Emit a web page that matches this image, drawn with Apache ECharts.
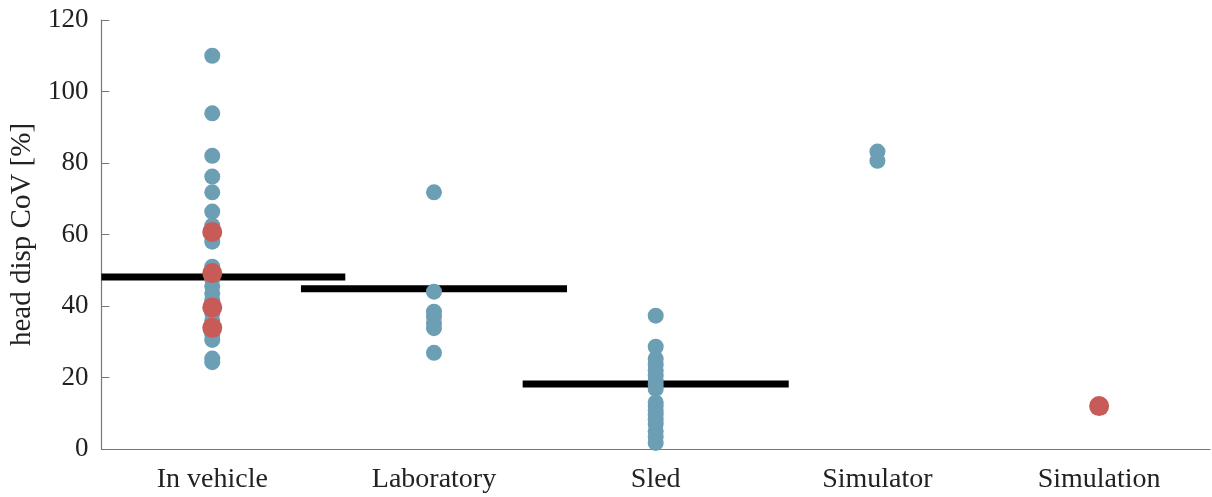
<!DOCTYPE html>
<html>
<head>
<meta charset="utf-8">
<script src="https://cdn.jsdelivr.net/npm/echarts@6/dist/echarts.min.js"></script>
<style>html,body{margin:0;padding:0;background:#fff}#c{width:1212px;height:497px}</style>
</head>
<body>
<div id="c"></div>
<script>
const categories = ['In vehicle', 'Laboratory', 'Sled', 'Simulator', 'Simulation'];
const yTicks = [0, 20, 40, 60, 80, 100, 120];
const blueInVehicle = [110, 93.9, 82, 76.2, 71.8, 66.4, 62.5, 58, 51, 47.5, 45.5, 43.5, 41.5, 38, 36, 32, 30.5, 25.3, 24.3];
const redInVehicle = [60.7, 49.2, 39.6, 33.9];
const blueLab = [71.8, 44, 38.4, 37, 35.2, 33.8, 26.9];
const blueSled = [37.3, 28.6, 25.2, 23.6, 22, 20.5, 19.2, 18, 16.8, 13, 12, 10.8, 9.6, 8.2, 7, 5, 3.4, 1.7];
const blueSimulator = [83.2, 80.6];
const redSimulation = [12];
const means = [48.1, 44.8, 18.2];

const BLUE = '#6C9EB4', RED = '#C75B58';
const FONT = '"Liberation Serif", "Times New Roman", serif';

const bluePts = [].concat(
  blueInVehicle.map(v => [0, v]),
  blueLab.map(v => [1, v]),
  blueSled.map(v => [2, v]),
  blueSimulator.map(v => [3, v])
);
const redPts = [].concat(
  redInVehicle.map(v => [0, v]),
  redSimulation.map(v => [4, v])
);

const meanSeries = means.map((m, i) => ({
  type: 'line', xAxisIndex: 1, yAxisIndex: 0, symbol: 'none', silent: true,
  lineStyle: { color: '#000', width: 7, cap: 'butt' }, z: 1,
  data: [[Math.max(i - 0.6, -0.5), m], [i + 0.6, m]]
}));

const chart = echarts.init(document.getElementById('c'));
chart.setOption({
  animation: false,
  grid: { left: 100, right: 2, top: 20, bottom: 48 },
  xAxis: [{
    type: 'category', data: categories, boundaryGap: true,
    axisLine: { onZero: false, lineStyle: { color: '#777', width: 1.2 } },
    axisTick: { alignWithLabel: true, inside: true, length: 8, lineStyle: { color: '#777' } },
    axisLabel: { color: '#222', fontFamily: FONT, fontSize: 28, margin: 17 },
    splitLine: { show: false }
  }, {
    type: 'value', min: -0.5, max: 4.5, show: false
  }],
  yAxis: {
    type: 'value', min: yTicks[0], max: yTicks[yTicks.length - 1], interval: 20,
    name: 'head disp CoV [%]', nameLocation: 'middle', nameGap: 59,
    nameTextStyle: { color: '#222', fontFamily: FONT, fontSize: 29 },
    axisLine: { show: true, onZero: false, lineStyle: { color: '#777', width: 1.2 } },
    axisTick: { show: true, inside: true, length: 8, lineStyle: { color: '#777' } },
    axisLabel: { color: '#222', fontFamily: FONT, fontSize: 27, margin: 13 },
    splitLine: { show: false }
  },
  series: meanSeries.concat([
    { type: 'scatter', xAxisIndex: 0, data: bluePts, symbolSize: 16, itemStyle: { color: BLUE, opacity: 1 }, z: 3 },
    { type: 'scatter', xAxisIndex: 0, data: redPts, symbolSize: 20, itemStyle: { color: RED, opacity: 1 }, z: 4 }
  ])
});
</script>
</body>
</html>
